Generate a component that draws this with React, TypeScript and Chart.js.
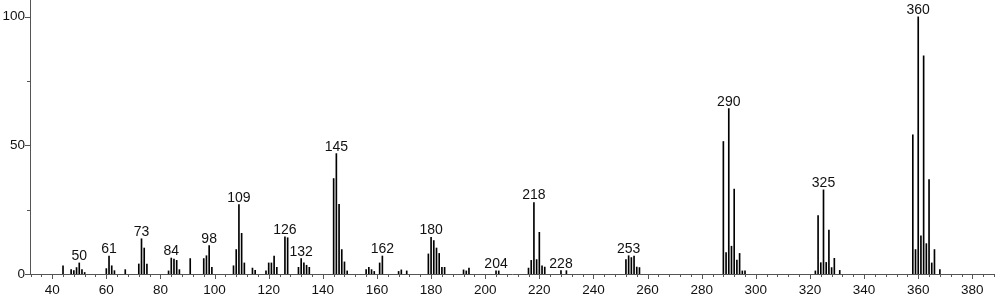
import React, { useEffect, useRef } from "react";
import { Chart, registerables } from "chart.js";

Chart.register(...registerables);

const mzValues: number[] = [
  44, 47, 48, 49, 50, 51, 52, 60, 61, 62, 63, 67, 72, 73, 74, 75, 83, 84, 85, 86, 87, 91,
  96, 97, 98, 99, 107, 108, 109, 110, 111, 114, 115, 119, 120, 121, 122, 123, 126, 127,
  131, 132, 133, 134, 135, 144, 145, 146, 147, 148, 149, 156, 157, 158, 159, 161, 162,
  168, 169, 171, 179, 180, 181, 182, 183, 184, 185, 192, 193, 194, 204, 205, 216, 217,
  218, 219, 220, 221, 222, 228, 230, 252, 253, 254, 255, 256, 257, 288, 289, 290, 291,
  292, 293, 294, 295, 296, 322, 323, 324, 325, 326, 327, 328, 329, 331, 358, 359, 360,
  361, 362, 363, 364, 365, 366, 368,
];

const intensities: number[] = [
  3.2, 1.7, 1.3, 2.5, 4.3, 1.7, 0.6, 2.1, 7.0, 3.2, 1.3, 1.7, 3.9, 13.7, 10.1, 3.9, 1.2, 6.2, 5.8, 5.3, 1.7, 6.0,
  6.0, 7.1, 11.0, 2.6, 3.2, 9.5, 27.0, 15.8, 4.3, 2.3, 1.4, 1.2, 4.3, 4.3, 7.0, 2.6, 14.4, 14.1,
  2.6, 6.0, 4.3, 3.4, 2.6, 37.1, 46.8, 27.1, 9.5, 4.7, 1.2, 1.7, 2.6, 1.7, 1.0, 4.3, 7.0,
  1.0, 1.6, 1.2, 7.8, 14.3, 13.0, 10.1, 8.0, 2.6, 2.6, 1.6, 1.2, 2.3, 1.2, 1.2, 2.3, 5.3,
  27.8, 5.6, 16.2, 3.2, 2.7, 1.3, 1.3, 5.6, 7.1, 6.4, 7.0, 2.7, 2.5, 51.5, 8.3, 64.3, 10.8,
  33.0, 5.4, 8.0, 1.2, 1.2, 1.2, 22.7, 4.4, 32.7, 4.5, 17.1, 2.5, 6.1, 1.4, 54.1, 9.5, 100,
  14.8, 84.8, 11.8, 36.7, 4.3, 9.5, 1.7,
];

const labeledPeaks: number[] = [50, 61, 73, 84, 98, 109, 126, 132, 145, 162, 180, 204, 218, 228, 253, 290, 325, 360];

const xTickLabels: number[] = [40, 60, 80, 100, 120, 140, 160, 180, 200, 220, 240, 260, 280, 300, 320, 340, 360, 380];
const yTickLabels: number[] = [0, 50, 100];
const xMinorStep = 4;
const yMinorStep = 25;

const FONT = "'Liberation Sans', Arial, Helvetica, sans-serif";
const AXIS_COLOR = "#555";

const tickMarksPlugin = {
  id: "tickMarks",
  afterDraw(chart: any) {
    const ctx = chart.ctx;
    const xs = chart.scales.x;
    const ys = chart.scales.y;
    const area = chart.chartArea;
    ctx.save();
    ctx.strokeStyle = AXIS_COLOR;
    ctx.lineWidth = 1;
    ctx.beginPath();
    const xStart = Math.ceil(xs.min / xMinorStep) * xMinorStep;
    for (let v = xStart; v <= xs.max; v += xMinorStep) {
      const px = Math.round(xs.getPixelForValue(v)) + 0.5;
      const major = xTickLabels.includes(v);
      ctx.moveTo(px, area.bottom);
      ctx.lineTo(px, area.bottom + (major ? 5 : 3));
    }
    for (let v = 0; v <= ys.max; v += yMinorStep) {
      const py = Math.round(ys.getPixelForValue(v)) + 0.5;
      const major = yTickLabels.includes(v);
      ctx.moveTo(area.left, py);
      ctx.lineTo(area.left - (major ? 5 : 3), py);
    }
    ctx.stroke();
    ctx.restore();
  },
};

const peakLabelPlugin = {
  id: "peakLabels",
  afterDatasetsDraw(chart: any) {
    const ctx = chart.ctx;
    const meta = chart.getDatasetMeta(0);
    ctx.save();
    ctx.fillStyle = "#111";
    ctx.font = `14px ${FONT}`;
    ctx.textAlign = "center";
    ctx.textBaseline = "alphabetic";
    labeledPeaks.forEach((mz) => {
      const i = mzValues.indexOf(mz);
      if (i < 0) return;
      const el = meta.data[i];
      ctx.fillText(String(mz), el.x, el.y - 3);
    });
    ctx.restore();
  },
};

export default function App() {
  const canvasRef = useRef<HTMLCanvasElement | null>(null);

  useEffect(() => {
    if (!canvasRef.current) return;
    const chart = new Chart(canvasRef.current, {
      type: "bar",
      data: {
        datasets: [
          {
            data: mzValues.map((x, i) => ({ x, y: intensities[i] })),
            backgroundColor: "#000",
            borderWidth: 0,
            barThickness: 1,
          } as any,
        ],
      },
      options: {
        animation: false,
        responsive: false,
        maintainAspectRatio: false,
        layout: { padding: { top: 0, right: 2, left: 0, bottom: 0 } },
        plugins: { legend: { display: false }, tooltip: { enabled: false } },
        scales: {
          x: {
            type: "linear",
            min: 31.8,
            max: 388,
            offset: false,
            grid: { display: false, drawTicks: false },
            border: { display: true, color: AXIS_COLOR, width: 1 },
            afterBuildTicks: (s: any) => {
              s.ticks = xTickLabels.map((v) => ({ value: v }));
            },
            afterFit: (s: any) => {
              s.height = 25;
              s.paddingLeft = 0;
              s.paddingRight = 0;
              s.paddingTop = 0;
              s.paddingBottom = 0;
            },
            ticks: {
              autoSkip: false,
              maxRotation: 0,
              padding: 8,
              color: "#111",
              font: { family: FONT, size: 13.5 },
              callback: (v: any) => String(v),
            },
          },
          y: {
            type: "linear",
            min: 0,
            max: 106.5,
            grid: { display: false, drawTicks: false },
            border: { display: true, color: AXIS_COLOR, width: 1 },
            afterBuildTicks: (s: any) => {
              s.ticks = yTickLabels.map((v) => ({ value: v }));
            },
            afterFit: (s: any) => {
              s.width = 30;
              s.paddingLeft = 0;
              s.paddingRight = 0;
              s.paddingTop = 0;
              s.paddingBottom = 0;
            },
            ticks: {
              padding: 5,
              color: "#111",
              font: { family: FONT, size: 13.5 },
              callback: (v: any) => String(v),
            },
          },
        },
      },
      plugins: [tickMarksPlugin, peakLabelPlugin],
    });
    return () => chart.destroy();
  }, []);

  return (
    <div style={{ position: "fixed", left: 0, top: 0, width: 996, height: 299, background: "#fff" }}>
      <canvas ref={canvasRef} width={996} height={299} style={{ display: "block", width: 996, height: 299 }} />
    </div>
  );
}
